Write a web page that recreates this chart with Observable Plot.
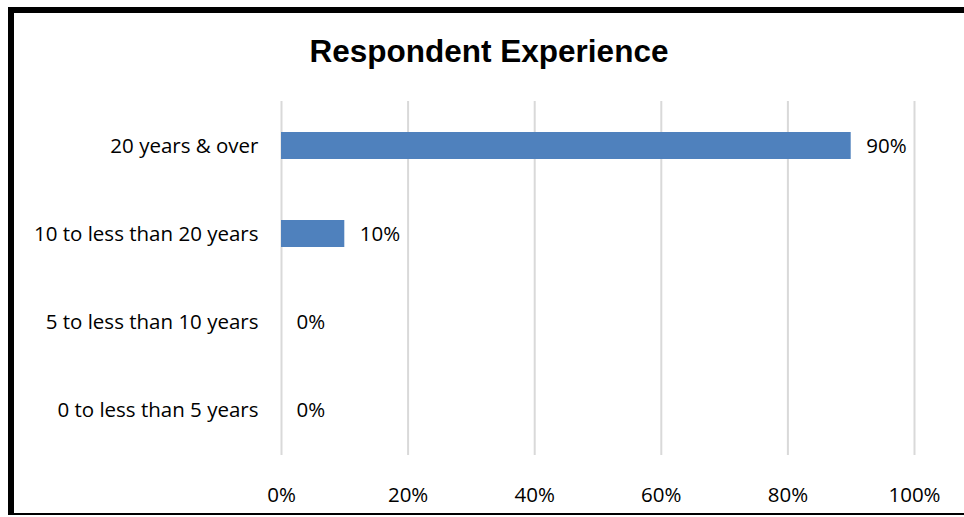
<!DOCTYPE html>
<html>
<head>
<meta charset="utf-8">
<script src="https://cdn.jsdelivr.net/npm/d3@7"></script>
<script src="https://cdn.jsdelivr.net/npm/@observablehq/plot@0.6"></script>
<style>
  html, body { margin: 0; padding: 0; background: #fff; overflow: hidden; }
  #wrap { position: relative; width: 964px; height: 517px; overflow: hidden; }
  #frame { position: absolute; left: 8px; top: 7px; width: 950px; height: 500px;
    border-top: 6px solid #000; border-left: 6px solid #000; border-bottom: 2px solid #000; border-right: none; pointer-events: none; }
  #title { position: absolute; left: 0; width: 978px; top: 33px; text-align: center; line-height: 36px;
    font-family: "Liberation Sans", Arial, sans-serif; font-weight: bold; font-size: 31.5px; color: #000; }
</style>
</head>
<body>
<div id="wrap">
  <div id="chart"></div>
  <div id="frame"></div>
  <div id="title">Respondent Experience</div>
</div>
<script>
const categories = ["20 years & over", "10 to less than 20 years", "5 to less than 10 years", "0 to less than 5 years"];
const values = [0.90, 0.10, 0.00, 0.00];
const xTicks = [0, 0.2, 0.4, 0.6, 0.8, 1.0];

const data = categories.map((c, i) => ({category: c, value: values[i]}));
const fmt = d3.format(".0%");

const chart = Plot.plot({
  width: 964,
  height: 517,
  marginLeft: 281,
  marginRight: 50,
  marginTop: 101,
  marginBottom: 62,
  style: {fontFamily: "'Open Sans', sans-serif", fontSize: "20.5px", color: "#000", background: "transparent"},
  x: {domain: [0, 1], ticks: xTicks, tickFormat: fmt, tickSize: 0, tickPadding: 32, label: null},
  y: {domain: categories, paddingInner: 0.69, paddingOuter: 0.345, tickSize: 0, tickPadding: 23, label: null},
  marks: [
    Plot.ruleX(xTicks, {stroke: "#d9d9d9", strokeWidth: 2}),
    Plot.barX(data, {y: "category", x: "value", fill: "#4f81bd"}),
    Plot.text(data, {y: "category", x: "value", text: d => fmt(d.value), textAnchor: "start", dx: 15, fill: "#000", fontSize: 20.5})
  ]
});
document.getElementById("chart").appendChild(chart);
</script>
</body>
</html>
